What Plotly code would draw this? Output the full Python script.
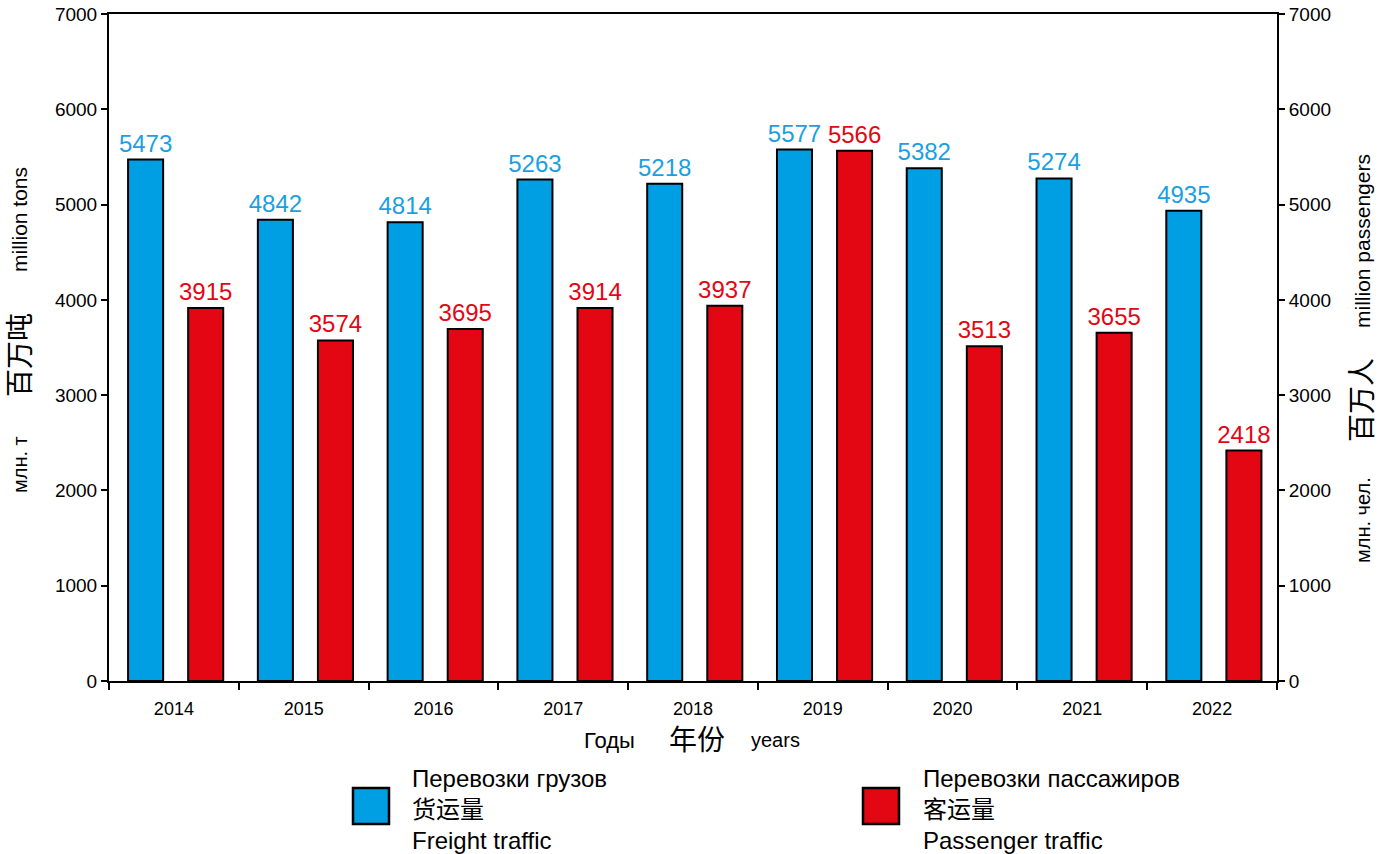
import plotly.graph_objects as go

years = ["2014", "2015", "2016", "2017", "2018", "2019", "2020", "2021", "2022"]
freight = [5473, 4842, 4814, 5263, 5218, 5577, 5382, 5274, 4935]
passengers = [3915, 3574, 3695, 3914, 3937, 5566, 3513, 3655, 2418]
freight_name = ["Перевозки грузов", "货运量", "Freight traffic"]
pass_name = ["Перевозки пассажиров", "客运量", "Passenger traffic"]
left_title = ["млн. т", "百万吨", "million tons"]
right_title = ["млн. чел.", "百万人", "million passengers"]
x_title = ["Годы", "年份", "years"]

BLUE = "#009FE3"
RED = "#E30613"
BLUE_TXT = "#1AA0E2"
FONT = "Arial, 'Liberation Sans', 'Noto Sans CJK SC', sans-serif"

W, H = 1386, 854
ML, MR, MT, MB = 109, 109, 14, 173
PW = W - ML - MR
PH = H - MT - MB


def px(x):
    return (x - ML) / PW


def py(y):
    return (H - MB - y) / PH


fig = go.Figure()
fig.add_trace(go.Bar(
    x=years, y=freight, name=freight_name[2], yaxis="y",
    marker=dict(color=BLUE, line=dict(color="black", width=2)),
    width=0.27, offset=-0.353,
    text=freight, textposition="outside", cliponaxis=False, constraintext="none",
    textfont=dict(size=24, color=BLUE_TXT, family=FONT),
))
fig.add_trace(go.Bar(
    x=years, y=passengers, name=pass_name[2], yaxis="y2",
    marker=dict(color=RED, line=dict(color="black", width=2)),
    width=0.27, offset=0.11,
    text=passengers, textposition="outside", cliponaxis=False, constraintext="none",
    textfont=dict(size=24, color=RED, family=FONT),
))

axis_common = dict(
    range=[0, 7000], dtick=1000, ticks="outside", ticklen=6, tickwidth=1.5,
    tickcolor="black", showline=True, linecolor="black", linewidth=2,
    showgrid=False, zeroline=False, tickfont=dict(size=19, color="black", family=FONT),
    automargin=False,
)

fig.update_layout(
    width=W, height=H,
    margin=dict(l=ML, r=MR, t=MT, b=MB, autoexpand=False),
    paper_bgcolor="white", plot_bgcolor="white",
    barmode="overlay", showlegend=False,
    font=dict(family=FONT, color="black"),
    xaxis=dict(
        type="category", range=[-0.5, 8.5], tickson="boundaries",
        ticks="outside", ticklen=7, tickwidth=1.5, tickcolor="black",
        showline=True, linecolor="black", linewidth=2, mirror=True,
        showgrid=False, tickfont=dict(size=18, color="black", family=FONT),
        ticklabelstandoff=10, automargin=False,
    ),
    yaxis=dict(**axis_common),
    yaxis2=dict(**axis_common, overlaying="y", side="right", anchor="x"),
)

ann = []
for txt, yc, sz in zip(left_title, [465, 355, 220], [20, 28, 21]):
    ann.append(dict(text=txt, x=px(20), y=py(yc), xref="paper", yref="paper",
                    textangle=-90, showarrow=False, xanchor="center", yanchor="middle",
                    font=dict(size=sz, color="black", family=FONT)))
for txt, yc, sz in zip(right_title, [520, 400, 241], [20, 28, 21]):
    ann.append(dict(text=txt, x=px(1363), y=py(yc), xref="paper", yref="paper",
                    textangle=-90, showarrow=False, xanchor="center", yanchor="middle",
                    font=dict(size=sz, color="black", family=FONT)))
for txt, xc, sz in zip(x_title, [609, 697, 775], [22, 28, 20]):
    ann.append(dict(text=txt, x=px(xc), y=py(740), xref="paper", yref="paper",
                    showarrow=False, xanchor="center", yanchor="middle",
                    font=dict(size=sz, color="black", family=FONT)))

shapes = []
for (x0, x1, tx, col, names) in [(353, 389, 410, BLUE, freight_name),
                                  (863, 899, 921, RED, pass_name)]:
    shapes.append(dict(type="rect", xref="paper", yref="paper",
                       x0=px(x0), x1=px(x1), y0=py(824), y1=py(788),
                       fillcolor=col, line=dict(color="black", width=2.5)))
    ann.append(dict(text="<br>".join(names), x=px(tx), y=py(810), xref="paper", yref="paper",
                    showarrow=False, xanchor="left", yanchor="middle", align="left",
                    font=dict(size=24, color="black", family=FONT)))

fig.update_layout(annotations=ann, shapes=shapes)
fig.write_html(
    "out.html",
    config={"displayModeBar": False},
    post_script="document.body.style.margin='0';document.body.style.overflow='hidden';",
)
